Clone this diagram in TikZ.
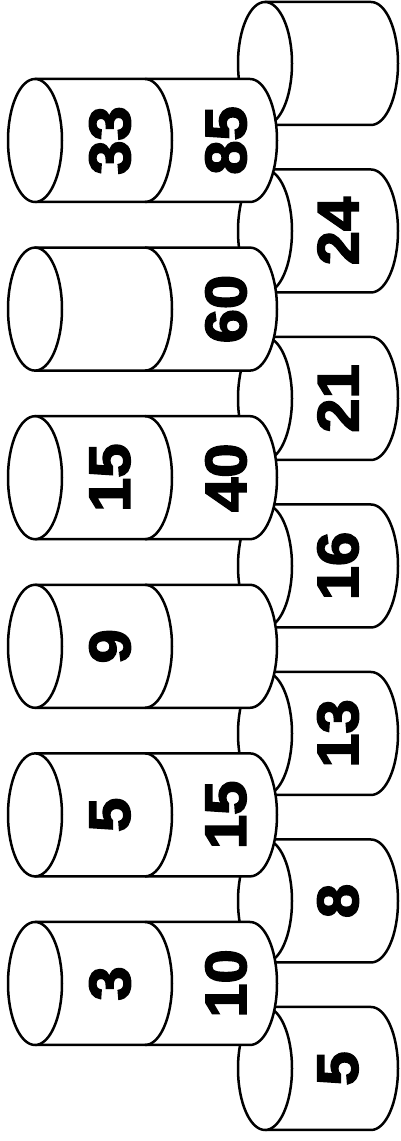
\documentclass[tikz,border=0pt]{standalone}
\usepackage{fontspec}
\newfontfamily\canfont{Liberation Sans}[UprightFont={* Bold},FakeBold=3,FakeStretch=1.06]
\begin{document}
\begin{tikzpicture}[x=1pt,y=1pt,line width=2.5pt,
  canline/.style={draw=black,fill=white,line join=round},
  numlabel/.style={font=\canfont\fontsize{58}{58}\selectfont,rotate=90,inner sep=0pt}]
\useasboundingbox (0,0) rectangle (400,1141);
\def\ry{61.5}\def\rx{27}
% bottom row of cans (right column), drawn first
\foreach \k in {0,...,6}{
  \pgfmathsetmacro\cy{1141-63.5-167.5*\k}
  \draw[canline] (265,\cy+\ry) -- (371,\cy+\ry)
     arc[start angle=90,end angle=-90,x radius=\rx,y radius=\ry]
     -- (265,\cy-\ry) -- cycle;
  \draw[canline] (265,\cy) ellipse[x radius=\rx,y radius=\ry];
}
\foreach \k/\t in {1/24,2/21,3/16,4/13,5/8,6/5}{
  \pgfmathsetmacro\cy{1141-63.5-167.5*\k}
  \node[numlabel] (r\k) at (338,\cy) {\t};
}
% upper cans (left column), two cans stacked each
\foreach \k in {0,...,5}{
  \pgfmathsetmacro\cy{1141-140.5-168.6*\k}
  \draw[canline] (35,\cy+\ry) -- (250,\cy+\ry)
     arc[start angle=90,end angle=-90,x radius=\rx,y radius=\ry]
     -- (35,\cy-\ry) -- cycle;
  \draw (145,\cy+\ry) arc[start angle=90,end angle=-90,x radius=\rx,y radius=\ry];
  \draw[canline] (35,\cy) ellipse[x radius=\rx,y radius=\ry];
}
\foreach \k/\t in {0/33,2/15,3/9,4/5,5/3}{
  \pgfmathsetmacro\cy{1141-140.5-168.6*\k}
  \node[numlabel] (u\k) at (110,\cy) {\t};
}
\foreach \k/\t in {0/85,1/60,2/40,4/15,5/10}{
  \pgfmathsetmacro\cy{1141-140.5-168.6*\k}
  \node[numlabel] (l\k) at (226,\cy) {\t};
}
\end{tikzpicture}
\end{document}
